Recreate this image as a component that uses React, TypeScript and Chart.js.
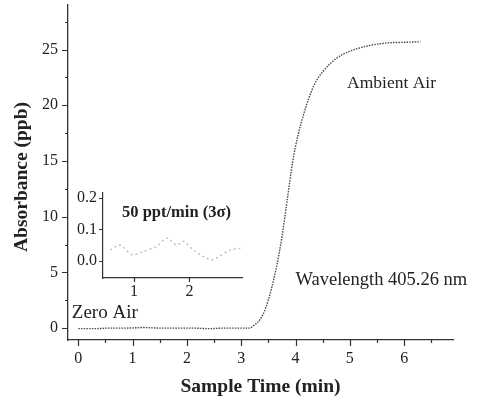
import React, { useEffect, useRef } from 'react';
import { Chart, registerables } from 'chart.js';

Chart.register(...registerables);

// Main series: sample time (min) vs absorbance (ppb)
const TIME = [0, 0.3, 0.6, 0.9, 1.2, 1.5, 1.8, 2.1, 2.4, 2.7, 3.0, 3.15, 3.25, 3.35, 3.45, 3.55, 3.65, 3.75, 3.85, 3.95, 4.05, 4.15, 4.25, 4.35, 4.5, 4.75, 5.0, 5.35, 5.7, 6.0, 6.3];
const ABSORBANCE = [-0.05, -0.05, 0.0, 0.0, 0.05, 0.0, 0.0, 0.0, -0.05, 0.0, 0.0, 0.0, 0.3, 0.8, 1.8, 3.4, 5.5, 8.2, 11.6, 15.0, 17.4, 19.2, 20.7, 21.9, 23.0, 24.2, 24.85, 25.35, 25.6, 25.65, 25.7];

// Inset: zero-air noise
const INSET_TIME = [0.57, 0.75, 0.96, 1.17, 1.41, 1.59, 1.77, 1.89, 2.07, 2.25, 2.4, 2.49, 2.74, 2.92];
const INSET_ABS = [0.035, 0.05, 0.02, 0.03, 0.046, 0.072, 0.05, 0.062, 0.035, 0.014, 0.003, 0.009, 0.035, 0.04];

const X_TICKS = [0, 1, 2, 3, 4, 5, 6];
const X_MINOR = [0.5, 1.5, 2.5, 3.5, 4.5, 5.5, 6.5];
const Y_TICKS = [0, 5, 10, 15, 20, 25];
const Y_MINOR = [2.5, 7.5, 12.5, 17.5, 22.5, 27.5];
const INSET_X_TICKS = [1, 2];
const INSET_Y_TICKS = [0, 0.1, 0.2];

const X_TITLE = 'Sample Time (min)';
const Y_TITLE = 'Absorbance (ppb)';
const INSET_TITLE = '50 ppt/min (3σ)';
const NOTES = [
  { text: 'Ambient Air', x: 4.95, y: 22.0, size: 17.5 },
  { text: 'Wavelength 405.26 nm', x: 4.0, y: 4.3, size: 18.5 },
  { text: 'Zero Air', x: -0.12, y: 1.35, size: 19 },
];

const SERIF = '"Liberation Serif", "Times New Roman", serif';
const AXIS_COLOR = '#333';
const TEXT_COLOR = '#222';

function tickPlugin(id: string, xs: number[], xm: number[], ys: number[], ym: number[], majorLen: number, minorLen: number) {
  return {
    id,
    afterDraw(chart: any) {
      const ctx = chart.ctx;
      const a = chart.chartArea;
      const sx = chart.scales.x;
      const sy = chart.scales.y;
      ctx.save();
      ctx.strokeStyle = AXIS_COLOR;
      ctx.lineWidth = 1.2;
      ctx.beginPath();
      const vx = (v: number, len: number) => {
        const p = Math.round(sx.getPixelForValue(v)) + 0.5;
        ctx.moveTo(p, a.bottom);
        ctx.lineTo(p, a.bottom + len);
      };
      const vy = (v: number, len: number) => {
        const p = Math.round(sy.getPixelForValue(v)) + 0.5;
        ctx.moveTo(a.left, p);
        ctx.lineTo(a.left - len, p);
      };
      xs.forEach((v) => vx(v, majorLen));
      xm.forEach((v) => vx(v, minorLen));
      ys.forEach((v) => vy(v, majorLen));
      ym.forEach((v) => vy(v, minorLen));
      ctx.stroke();
      ctx.restore();
    },
  };
}

const mainText = {
  id: 'mainText',
  afterDraw(chart: any) {
    const ctx = chart.ctx;
    const a = chart.chartArea;
    const sx = chart.scales.x;
    const sy = chart.scales.y;
    ctx.save();
    ctx.fillStyle = TEXT_COLOR;
    ctx.textBaseline = 'middle';
    ctx.textAlign = 'left';
    NOTES.forEach((n) => {
      ctx.font = `${n.size}px ${SERIF}`;
      ctx.fillText(n.text, sx.getPixelForValue(n.x), sy.getPixelForValue(n.y));
    });
    ctx.font = `bold 19.5px ${SERIF}`;
    ctx.textAlign = 'center';
    ctx.fillText(X_TITLE, (a.left + a.right) / 2, 387);
    ctx.translate(22, 177);
    ctx.rotate(-Math.PI / 2);
    ctx.fillText(Y_TITLE, 0, 0);
    ctx.restore();
  },
};

const insetText = {
  id: 'insetText',
  afterDraw(chart: any) {
    const ctx = chart.ctx;
    const a = chart.chartArea;
    ctx.save();
    ctx.fillStyle = TEXT_COLOR;
    ctx.font = `bold 16.5px ${SERIF}`;
    ctx.textBaseline = 'middle';
    ctx.textAlign = 'left';
    ctx.fillText(INSET_TITLE, a.left + 19, a.top + 20);
    ctx.restore();
  },
};

export default function App() {
  const mainRef = useRef<HTMLCanvasElement>(null);
  const insetRef = useRef<HTMLCanvasElement>(null);

  useEffect(() => {
    const tickFont = { family: SERIF, size: 16 };
    const main = new Chart(mainRef.current as HTMLCanvasElement, {
      type: 'line',
      data: {
        datasets: [
          {
            data: TIME.map((t, i) => ({ x: t, y: ABSORBANCE[i] })),
            borderColor: '#4a4a4a',
            borderWidth: 1.4,
            borderDash: [1.5, 1.2],
            pointRadius: 0,
            cubicInterpolationMode: 'monotone',
            fill: false,
          },
        ],
      },
      options: {
        animation: false,
        responsive: false,
        maintainAspectRatio: false,
        layout: { padding: { left: 0, top: 5, right: 27, bottom: 0 } },
        plugins: { legend: { display: false }, tooltip: { enabled: false } },
        scales: {
          x: {
            type: 'linear',
            min: -0.19,
            max: 6.9,
            grid: { display: false, drawTicks: false },
            border: { display: true, color: AXIS_COLOR, width: 1.3 },
            ticks: { padding: 9, font: tickFont, color: TEXT_COLOR, maxRotation: 0 },
            afterBuildTicks: (s: any) => {
              s.ticks = X_TICKS.map((v) => ({ value: v }));
            },
            afterFit: (s: any) => {
              s.height = 61;
              s.paddingLeft = 0;
              s.paddingRight = 0;
            },
          },
          y: {
            type: 'linear',
            min: -1.07,
            max: 29,
            grid: { display: false, drawTicks: false },
            border: { display: true, color: AXIS_COLOR, width: 1.3 },
            ticks: { padding: 10, font: tickFont, color: TEXT_COLOR },
            afterBuildTicks: (s: any) => {
              s.ticks = Y_TICKS.map((v) => ({ value: v }));
            },
            afterFit: (s: any) => {
              s.width = 68;
              s.paddingTop = 0;
              s.paddingBottom = 0;
            },
          },
        },
      },
      plugins: [tickPlugin('mainTicks', X_TICKS, X_MINOR, Y_TICKS, Y_MINOR, 6, 3), mainText],
    } as any);

    const inset = new Chart(insetRef.current as HTMLCanvasElement, {
      type: 'line',
      data: {
        datasets: [
          {
            data: INSET_TIME.map((t, i) => ({ x: t, y: INSET_ABS[i] })),
            borderColor: '#b8b8b8',
            borderWidth: 1.3,
            borderDash: [2, 3],
            pointRadius: 0,
            tension: 0.3,
            fill: false,
          },
        ],
      },
      options: {
        animation: false,
        responsive: false,
        maintainAspectRatio: false,
        layout: { padding: { left: 63, top: 193, right: 238, bottom: 93 } },
        plugins: { legend: { display: false }, tooltip: { enabled: false } },
        scales: {
          x: {
            type: 'linear',
            min: 0.44,
            max: 2.95,
            grid: { display: false, drawTicks: false },
            border: { display: true, color: AXIS_COLOR, width: 1.2 },
            ticks: { padding: 4, font: tickFont, color: TEXT_COLOR, maxRotation: 0 },
            afterBuildTicks: (s: any) => {
              s.ticks = INSET_X_TICKS.map((v) => ({ value: v }));
            },
            afterFit: (s: any) => {
              s.height = 30;
              s.paddingLeft = 0;
              s.paddingRight = 0;
            },
          },
          y: {
            type: 'linear',
            min: -0.054,
            max: 0.215,
            grid: { display: false, drawTicks: false },
            border: { display: true, color: AXIS_COLOR, width: 1.2 },
            ticks: {
              padding: 6,
              font: tickFont,
              color: TEXT_COLOR,
              callback: (v: any) => Number(v).toFixed(1),
            },
            afterBuildTicks: (s: any) => {
              s.ticks = INSET_Y_TICKS.map((v) => ({ value: v }));
            },
            afterFit: (s: any) => {
              s.width = 40;
              s.paddingTop = 0;
              s.paddingBottom = 0;
            },
          },
        },
      },
      plugins: [tickPlugin('insetTicks', INSET_X_TICKS, [], INSET_Y_TICKS, [], 4, 2), insetText],
    } as any);

    return () => {
      main.destroy();
      inset.destroy();
    };
  }, []);

  const canvasStyle: React.CSSProperties = { position: 'absolute', left: 0, top: 0, width: 480, height: 401 };
  return (
    <div style={{ position: 'fixed', left: 0, top: 0, width: 480, height: 401, background: '#fff' }}>
      <canvas ref={mainRef} width={480} height={401} style={canvasStyle} />
      <canvas ref={insetRef} width={480} height={401} style={canvasStyle} />
    </div>
  );
}
